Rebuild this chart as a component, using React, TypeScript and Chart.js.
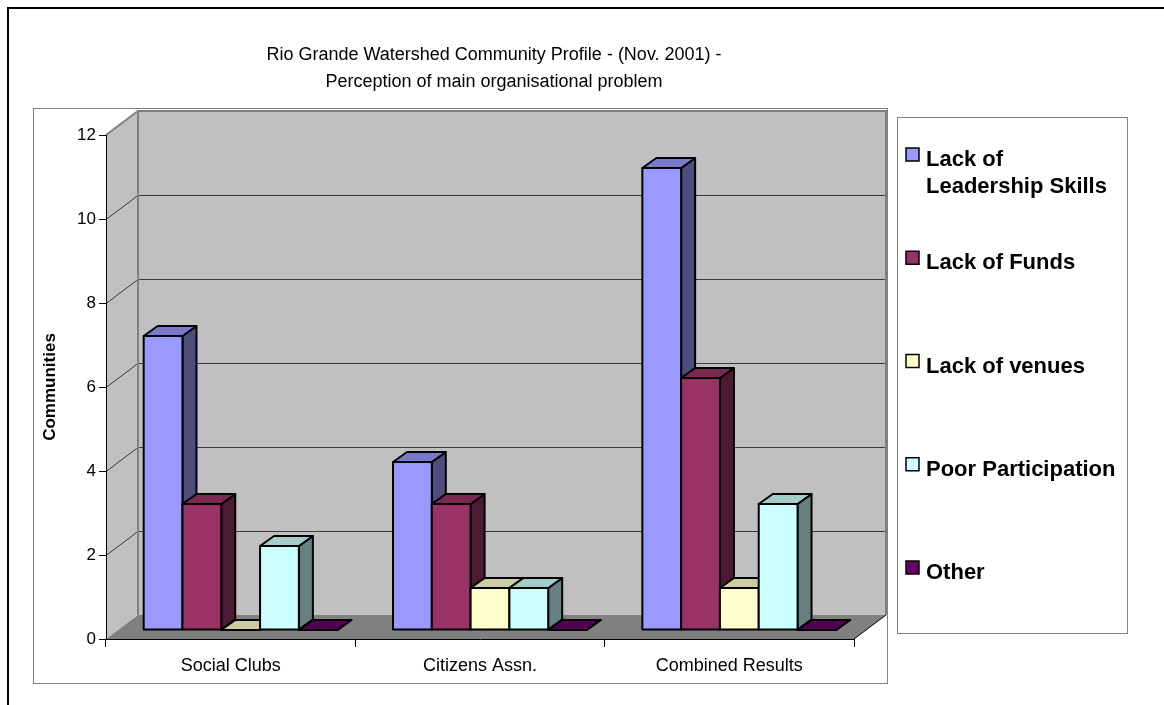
import { useEffect, useRef } from "react";
import { Chart, registerables } from "chart.js";

Chart.register(...registerables);

// ---- chart data ----
const chartTitle = [
  "Rio Grande Watershed Community Profile - (Nov. 2001) -",
  "Perception of main organisational problem",
];
const categories = ["Social Clubs", "Citizens Assn.", "Combined Results"];
const seriesNames = [
  "Lack of Leadership Skills",
  "Lack of Funds",
  "Lack of venues",
  "Poor Participation",
  "Other",
];
const leadershipSkills = [7, 4, 11];
const lackOfFunds = [3, 3, 6];
const lackOfVenues = [0, 1, 1];
const poorParticipation = [2, 1, 3];
const otherProblems = [0, 0, 0];
const seriesColors = ["#9999FF", "#993366", "#FFFFCC", "#CCFFFF", "#660066"];
const yAxisMin = 0;
const yAxisMax = 12;
const yAxisStep = 2;
const yAxisTitle = "Communities";

const FONT = '"Liberation Sans", Arial, "DejaVu Sans", sans-serif';

function shade(hex: string, f: number): string {
  const n = parseInt(hex.slice(1), 16);
  const r = Math.round(((n >> 16) & 255) * f);
  const g = Math.round(((n >> 8) & 255) * f);
  const b = Math.round((n & 255) * f);
  return `rgb(${r},${g},${b})`;
}

function wrapWords(ctx: CanvasRenderingContext2D, text: string, maxWidth: number): string[] {
  const words = text.split(" ");
  const lines: string[] = [];
  let line = "";
  for (const w of words) {
    const test = line ? line + " " + w : w;
    if (line && ctx.measureText(test).width > maxWidth) {
      lines.push(line);
      line = w;
    } else {
      line = test;
    }
  }
  if (line) lines.push(line);
  return lines;
}

function poly(ctx: CanvasRenderingContext2D, pts: number[][], fill?: string, stroke?: string, lw = 1) {
  ctx.beginPath();
  ctx.moveTo(pts[0][0], pts[0][1]);
  for (let i = 1; i < pts.length; i++) ctx.lineTo(pts[i][0], pts[i][1]);
  ctx.closePath();
  if (fill) {
    ctx.fillStyle = fill;
    ctx.fill();
  }
  if (stroke) {
    ctx.strokeStyle = stroke;
    ctx.lineWidth = lw;
    ctx.stroke();
  }
}

// depth of the 3-D floor / walls, and placement of the bar boxes within it
const WALL = { dx: 32, dy: 24 };
const BAR_FRONT = { dx: 10, dy: 9 };
const BAR_DEPTH = { dx: 14, dy: 10 };

const excel3d = {
  id: "excel3d",
  beforeDraw(chart: any) {
    const { ctx, chartArea, scales } = chart;
    const yS = scales.y;
    const { left, right } = chartArea;
    ctx.save();

    // page background and outer frame
    ctx.fillStyle = "#ffffff";
    ctx.fillRect(0, 0, chart.width, chart.height);
    ctx.strokeStyle = "#000";
    ctx.lineWidth = 2;
    ctx.beginPath();
    ctx.moveTo(8, chart.height);
    ctx.lineTo(8, 8);
    ctx.lineTo(chart.width, 8);
    ctx.stroke();

    // plot-area frame
    ctx.strokeStyle = "#808080";
    ctx.lineWidth = 1;
    ctx.strokeRect(33.5, 108.5, 854, 575);

    // title
    ctx.fillStyle = "#000";
    ctx.font = `18px ${FONT}`;
    ctx.textAlign = "center";
    ctx.textBaseline = "middle";
    chartTitle.forEach((t, i) => ctx.fillText(t, 494, 55 + i * 27));

    // walls and floor
    const yTop = yS.getPixelForValue(yAxisMax);
    const yBot = yS.getPixelForValue(yAxisMin);
    const bl = left + WALL.dx;
    const br = right + WALL.dx;
    // side wall
    poly(ctx, [[left, yTop], [bl, yTop - WALL.dy], [bl, yBot - WALL.dy], [left, yBot]], "#C0C0C0");
    // back wall
    poly(ctx, [[bl, yTop - WALL.dy], [br, yTop - WALL.dy], [br, yBot - WALL.dy], [bl, yBot - WALL.dy]], "#C0C0C0");
    // floor
    poly(ctx, [[left, yBot], [bl, yBot - WALL.dy], [br, yBot - WALL.dy], [right, yBot]], "#808080");

    // gridlines on side and back walls
    ctx.strokeStyle = "#3a3a3a";
    ctx.lineWidth = 1;
    for (let v = yAxisMin + yAxisStep; v < yAxisMax; v += yAxisStep) {
      const py = Math.round(yS.getPixelForValue(v)) + 0.5;
      ctx.beginPath();
      ctx.moveTo(left, py);
      ctx.lineTo(bl, py - WALL.dy);
      ctx.lineTo(br, py - WALL.dy);
      ctx.stroke();
    }
    // wall edges
    ctx.strokeStyle = "#808080";
    ctx.lineWidth = 2;
    ctx.beginPath();
    ctx.moveTo(left, yTop);
    ctx.lineTo(bl, yTop - WALL.dy);
    ctx.lineTo(br, yTop - WALL.dy);
    ctx.lineTo(br, yBot - WALL.dy);
    ctx.moveTo(bl, yTop - WALL.dy);
    ctx.lineTo(bl, yBot - WALL.dy);
    ctx.stroke();
    ctx.strokeStyle = "#000";
    ctx.lineWidth = 1;
    ctx.beginPath();
    ctx.moveTo(right, yBot);
    ctx.lineTo(br, yBot - WALL.dy);
    ctx.stroke();

    // legend
    const lx = 897, ly = 117, lw = 230, lh = 516;
    ctx.fillStyle = "#fff";
    ctx.fillRect(lx, ly, lw, lh);
    ctx.strokeStyle = "#808080";
    ctx.lineWidth = 1;
    ctx.strokeRect(lx + 0.5, ly + 0.5, lw, lh);
    ctx.font = `bold 22px ${FONT}`;
    ctx.textAlign = "left";
    ctx.textBaseline = "middle";
    chart.data.datasets.forEach((ds: any, i: number) => {
      const cy = ly + 43 + i * 103.25;
      ctx.fillStyle = ds.backgroundColor;
      ctx.fillRect(906, cy - 12, 13, 13);
      ctx.strokeStyle = "#000";
      ctx.lineWidth = 1.5;
      ctx.strokeRect(906, cy - 12, 13, 13);
      ctx.fillStyle = "#000";
      wrapWords(ctx, ds.label, 195).forEach((line, k) => ctx.fillText(line, 926, cy + k * 27));
    });
    ctx.restore();
  },
  beforeDatasetsDraw(chart: any) {
    const { ctx } = chart;
    ctx.save();
    ctx.lineJoin = "round";
    const n = chart.data.labels.length;
    for (let j = 0; j < n; j++) {
      chart.data.datasets.forEach((ds: any, i: number) => {
        const bar: any = chart.getDatasetMeta(i).data[j];
        const { x, y, base, width } = bar.getProps(["x", "y", "base", "width"], true);
        const color = ds.backgroundColor as string;
        const l = x - width / 2 + BAR_FRONT.dx;
        const r = x + width / 2 + BAR_FRONT.dx;
        const t = y - BAR_FRONT.dy;
        const b = base - BAR_FRONT.dy;
        const dx = BAR_DEPTH.dx, dy = BAR_DEPTH.dy;
        // side face
        if (b - t > 0.5) {
          poly(ctx, [[r, t], [r + dx, t - dy], [r + dx, b - dy], [r, b]], shade(color, 0.5), "#000", 2);
        }
        // top face
        poly(ctx, [[l, t], [l + dx, t - dy], [r + dx, t - dy], [r, t]], shade(color, 0.8), "#000", 2);
        // front face
        poly(ctx, [[l, t], [r, t], [r, b], [l, b]], color, "#000", 2);
      });
    }
    ctx.restore();
    return false;
  },
};

export default function App() {
  const canvasRef = useRef<HTMLCanvasElement | null>(null);

  useEffect(() => {
    const canvas = canvasRef.current;
    if (!canvas) return;
    const seriesValues = [leadershipSkills, lackOfFunds, lackOfVenues, poorParticipation, otherProblems];
    const chart = new Chart(canvas, {
      type: "bar",
      data: {
        labels: categories,
        datasets: seriesNames.map((name, i) => ({
          label: name,
          data: seriesValues[i],
          backgroundColor: seriesColors[i],
          borderColor: "#000",
          categoryPercentage: 0.778,
          barPercentage: 1,
        })),
      },
      options: {
        responsive: false,
        animation: false,
        devicePixelRatio: 1,
        events: [],
        layout: { padding: { left: 33, right: 310, top: 135, bottom: 22 } },
        plugins: {
          legend: { display: false },
          title: { display: false },
          tooltip: { enabled: false },
        },
        scales: {
          x: {
            offset: true,
            grid: { offset: true, drawOnChartArea: false, drawTicks: true, tickLength: 8, color: "#000" },
            border: { display: true, color: "#000", width: 1 },
            ticks: { color: "#000", font: { family: FONT, size: 18 }, padding: 8, maxRotation: 0 },
            afterFit: (s: any) => {
              s.height = 44;
            },
          },
          y: {
            min: yAxisMin,
            max: yAxisMax,
            grid: { drawOnChartArea: false, drawTicks: true, tickLength: 7, color: "#000" },
            border: { display: true, color: "#000", width: 1 },
            ticks: { stepSize: yAxisStep, color: "#000", font: { family: FONT, size: 17 }, padding: 3 },
            title: {
              display: true,
              text: yAxisTitle,
              color: "#000",
              font: { family: FONT, size: 17, weight: "bold" },
              padding: { top: 7, bottom: 0 },
            },
            afterFit: (s: any) => {
              s.width = 73;
            },
          },
        },
      },
      plugins: [excel3d],
    } as any);
    return () => chart.destroy();
  }, []);

  return (
    <div style={{ position: "fixed", left: 0, top: 0, width: 1164, height: 705, background: "#fff" }}>
      <canvas ref={canvasRef} width={1164} height={705} style={{ display: "block" }} />
    </div>
  );
}
